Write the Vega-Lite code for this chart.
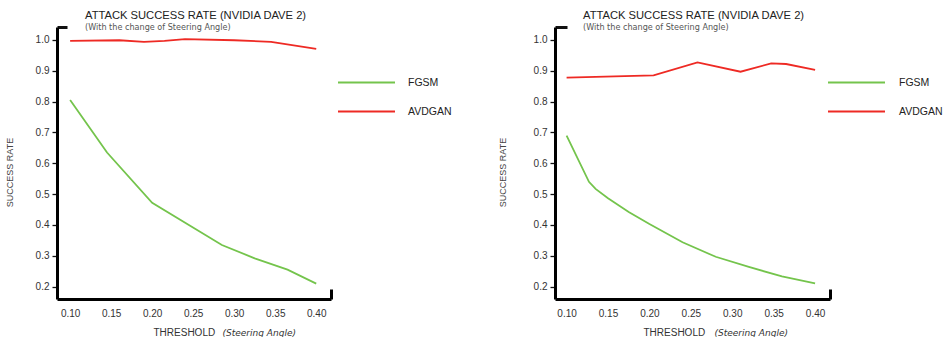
{
  "$schema": "https://vega.github.io/schema/vega-lite/v6.json",
  "background": "white",
  "padding": {"left": 5, "top": 10, "right": 0, "bottom": 0},
  "config": {"view": {"stroke": null}, "axis": {"grid": false}, "font": "Liberation Sans"},
  "datasets": {
    "left": [
      {"threshold": 0.10, "rate": 0.805, "method": "FGSM"},
      {"threshold": 0.145, "rate": 0.635, "method": "FGSM"},
      {"threshold": 0.20, "rate": 0.472, "method": "FGSM"},
      {"threshold": 0.285, "rate": 0.335, "method": "FGSM"},
      {"threshold": 0.325, "rate": 0.292, "method": "FGSM"},
      {"threshold": 0.365, "rate": 0.255, "method": "FGSM"},
      {"threshold": 0.40, "rate": 0.21, "method": "FGSM"},
      {"threshold": 0.10, "rate": 0.997, "method": "AVDGAN"},
      {"threshold": 0.16, "rate": 0.999, "method": "AVDGAN"},
      {"threshold": 0.19, "rate": 0.994, "method": "AVDGAN"},
      {"threshold": 0.215, "rate": 0.997, "method": "AVDGAN"},
      {"threshold": 0.24, "rate": 1.003, "method": "AVDGAN"},
      {"threshold": 0.30, "rate": 0.999, "method": "AVDGAN"},
      {"threshold": 0.345, "rate": 0.994, "method": "AVDGAN"},
      {"threshold": 0.40, "rate": 0.971, "method": "AVDGAN"}
    ],
    "right": [
      {"threshold": 0.10, "rate": 0.69, "method": "FGSM"},
      {"threshold": 0.127, "rate": 0.54, "method": "FGSM"},
      {"threshold": 0.135, "rate": 0.517, "method": "FGSM"},
      {"threshold": 0.15, "rate": 0.487, "method": "FGSM"},
      {"threshold": 0.175, "rate": 0.442, "method": "FGSM"},
      {"threshold": 0.20, "rate": 0.403, "method": "FGSM"},
      {"threshold": 0.24, "rate": 0.344, "method": "FGSM"},
      {"threshold": 0.28, "rate": 0.297, "method": "FGSM"},
      {"threshold": 0.32, "rate": 0.264, "method": "FGSM"},
      {"threshold": 0.36, "rate": 0.233, "method": "FGSM"},
      {"threshold": 0.40, "rate": 0.211, "method": "FGSM"},
      {"threshold": 0.10, "rate": 0.878, "method": "AVDGAN"},
      {"threshold": 0.205, "rate": 0.885, "method": "AVDGAN"},
      {"threshold": 0.258, "rate": 0.927, "method": "AVDGAN"},
      {"threshold": 0.31, "rate": 0.897, "method": "AVDGAN"},
      {"threshold": 0.347, "rate": 0.924, "method": "AVDGAN"},
      {"threshold": 0.365, "rate": 0.922, "method": "AVDGAN"},
      {"threshold": 0.40, "rate": 0.903, "method": "AVDGAN"}
    ]
  },
  "spacing": 46,
  "resolve": {"scale": {"color": "independent", "x": "independent", "y": "independent"}, "legend": {"color": "independent"}},
  "hconcat": [
    {
      "width": 274,
      "height": 272,
      "data": {"name": "left"},
      "title": {"text": "ATTACK SUCCESS RATE (NVIDIA DAVE 2)", "subtitle": "(With the change of Steering Angle)", "anchor": "start", "frame": "group", "dx": 28, "offset": -7, "font": "Liberation Sans", "fontSize": 11.2, "fontWeight": "normal", "color": "#222", "subtitleFont": "DejaVu Sans", "subtitleFontSize": 8.1, "subtitleColor": "#555", "subtitlePadding": 3},
      "resolve": {"axis": {"x": "independent"}},
      "layer": [
        {
          "mark": {"type": "line", "strokeWidth": 1.8},
          "encoding": {
            "x": {"field": "threshold", "type": "quantitative", "scale": {"domain": [0.084, 0.418], "nice": false, "zero": false},
              "axis": {"orient": "bottom", "title": "THRESHOLD", "values": [0.1, 0.15, 0.2, 0.25, 0.3, 0.35, 0.4, 0.418], "labelExpr": "datum.value > 0.41 ? '' : format(datum.value, '.2f')",
                "tickSize": {"condition": {"test": "datum.value > 0.41", "value": -10}, "value": 0}, "tickWidth": 3, "tickColor": "#000",
                "domainColor": "#000", "domainWidth": 3, "labelFont": "Liberation Sans", "labelFontSize": 10, "labelColor": "#333", "labelPadding": 9,
                "titleFont": "Liberation Sans", "titleFontSize": 10, "titleFontWeight": "normal", "titleColor": "#333", "titleAlign": "left", "titleBaseline": "alphabetic", "titleX": 96, "titleY": 36}},
            "y": {"field": "rate", "type": "quantitative", "scale": {"domain": [0.16, 1.042], "nice": false, "zero": false},
              "axis": {"title": "SUCCESS RATE", "values": [0.2, 0.3, 0.4, 0.5, 0.6, 0.7, 0.8, 0.9, 1.0, 1.042], "labelExpr": "datum.value > 1.01 ? '' : format(datum.value, '.1f')",
                "tickSize": {"condition": {"test": "datum.value > 1.01", "value": -10}, "value": 5}, "tickWidth": {"condition": {"test": "datum.value > 1.01", "value": 3}, "value": 1.3}, "tickColor": "#111",
                "domainColor": "#000", "domainWidth": 3, "labelFont": "Liberation Sans", "labelFontSize": 10, "labelColor": "#333", "labelPadding": 3,
                "titleFont": "Liberation Sans", "titleFontSize": 9, "titleFontWeight": "normal", "titleColor": "#444", "titleX": -43, "titleY": 145}},
            "color": {"field": "method", "type": "nominal", "scale": {"domain": ["FGSM", "AVDGAN"], "range": ["#74c44c", "#ee2a24"]},
              "legend": {"orient": "none", "legendX": 318, "legendY": 45, "title": null, "symbolType": "M-5,0H1", "symbolSize": 361, "symbolStrokeWidth": 2, "labelFont": "Liberation Sans", "labelFontSize": 10.5, "labelColor": "#222", "labelOffset": 12, "rowPadding": 13, "padding": 0}}
          }
        },
        {
          "mark": {"type": "point", "opacity": 0},
          "encoding": {
            "x": {"field": "threshold", "type": "quantitative", "scale": {"domain": [0.084, 0.418], "nice": false, "zero": false},
              "axis": {"orient": "bottom", "title": "(Steering Angle)", "labels": false, "ticks": false, "domain": false, "titleFont": "DejaVu Sans", "titleFontSize": 9, "titleFontStyle": "italic", "titleFontWeight": "normal", "titleColor": "#333", "titleAlign": "left", "titleBaseline": "alphabetic", "titleX": 165, "titleY": 36}}
          }
        }
      ]
    },
    {
      "width": 275,
      "height": 272,
      "data": {"name": "right"},
      "title": {"text": "ATTACK SUCCESS RATE (NVIDIA DAVE 2)", "subtitle": "(With the change of Steering Angle)", "anchor": "start", "frame": "group", "dx": 28, "offset": -7, "font": "Liberation Sans", "fontSize": 11.2, "fontWeight": "normal", "color": "#222", "subtitleFont": "DejaVu Sans", "subtitleFontSize": 8.1, "subtitleColor": "#555", "subtitlePadding": 3},
      "resolve": {"axis": {"x": "independent"}},
      "layer": [
        {
          "mark": {"type": "line", "strokeWidth": 1.8},
          "encoding": {
            "x": {"field": "threshold", "type": "quantitative", "scale": {"domain": [0.086, 0.418], "nice": false, "zero": false},
              "axis": {"orient": "bottom", "title": "THRESHOLD", "values": [0.1, 0.15, 0.2, 0.25, 0.3, 0.35, 0.4, 0.418], "labelExpr": "datum.value > 0.41 ? '' : format(datum.value, '.2f')",
                "tickSize": {"condition": {"test": "datum.value > 0.41", "value": -10}, "value": 0}, "tickWidth": 3, "tickColor": "#000",
                "domainColor": "#000", "domainWidth": 3, "labelFont": "Liberation Sans", "labelFontSize": 10, "labelColor": "#333", "labelPadding": 9,
                "titleFont": "Liberation Sans", "titleFontSize": 10, "titleFontWeight": "normal", "titleColor": "#333", "titleAlign": "left", "titleBaseline": "alphabetic", "titleX": 88, "titleY": 36}},
            "y": {"field": "rate", "type": "quantitative", "scale": {"domain": [0.16, 1.042], "nice": false, "zero": false},
              "axis": {"title": "SUCCESS RATE", "values": [0.2, 0.3, 0.4, 0.5, 0.6, 0.7, 0.8, 0.9, 1.0, 1.042], "labelExpr": "datum.value > 1.01 ? '' : format(datum.value, '.1f')",
                "tickSize": {"condition": {"test": "datum.value > 1.01", "value": -12}, "value": 5}, "tickWidth": {"condition": {"test": "datum.value > 1.01", "value": 3}, "value": 1.3}, "tickColor": "#111",
                "domainColor": "#000", "domainWidth": 3, "labelFont": "Liberation Sans", "labelFontSize": 10, "labelColor": "#333", "labelPadding": 3,
                "titleFont": "Liberation Sans", "titleFontSize": 9, "titleFontWeight": "normal", "titleColor": "#444", "titleX": -48, "titleY": 145}},
            "color": {"field": "method", "type": "nominal", "scale": {"domain": ["FGSM", "AVDGAN"], "range": ["#74c44c", "#ee2a24"]},
              "legend": {"orient": "none", "legendX": 310, "legendY": 45, "title": null, "symbolType": "M-5,0H1", "symbolSize": 361, "symbolStrokeWidth": 2, "labelFont": "Liberation Sans", "labelFontSize": 10.5, "labelColor": "#222", "labelOffset": 13, "rowPadding": 13, "padding": 0}}
          }
        },
        {
          "mark": {"type": "point", "opacity": 0},
          "encoding": {
            "x": {"field": "threshold", "type": "quantitative", "scale": {"domain": [0.086, 0.418], "nice": false, "zero": false},
              "axis": {"orient": "bottom", "title": "(Steering Angle)", "labels": false, "ticks": false, "domain": false, "titleFont": "DejaVu Sans", "titleFontSize": 9, "titleFontStyle": "italic", "titleFontWeight": "normal", "titleColor": "#333", "titleAlign": "left", "titleBaseline": "alphabetic", "titleX": 159, "titleY": 36}}
          }
        }
      ]
    }
  ]
}
